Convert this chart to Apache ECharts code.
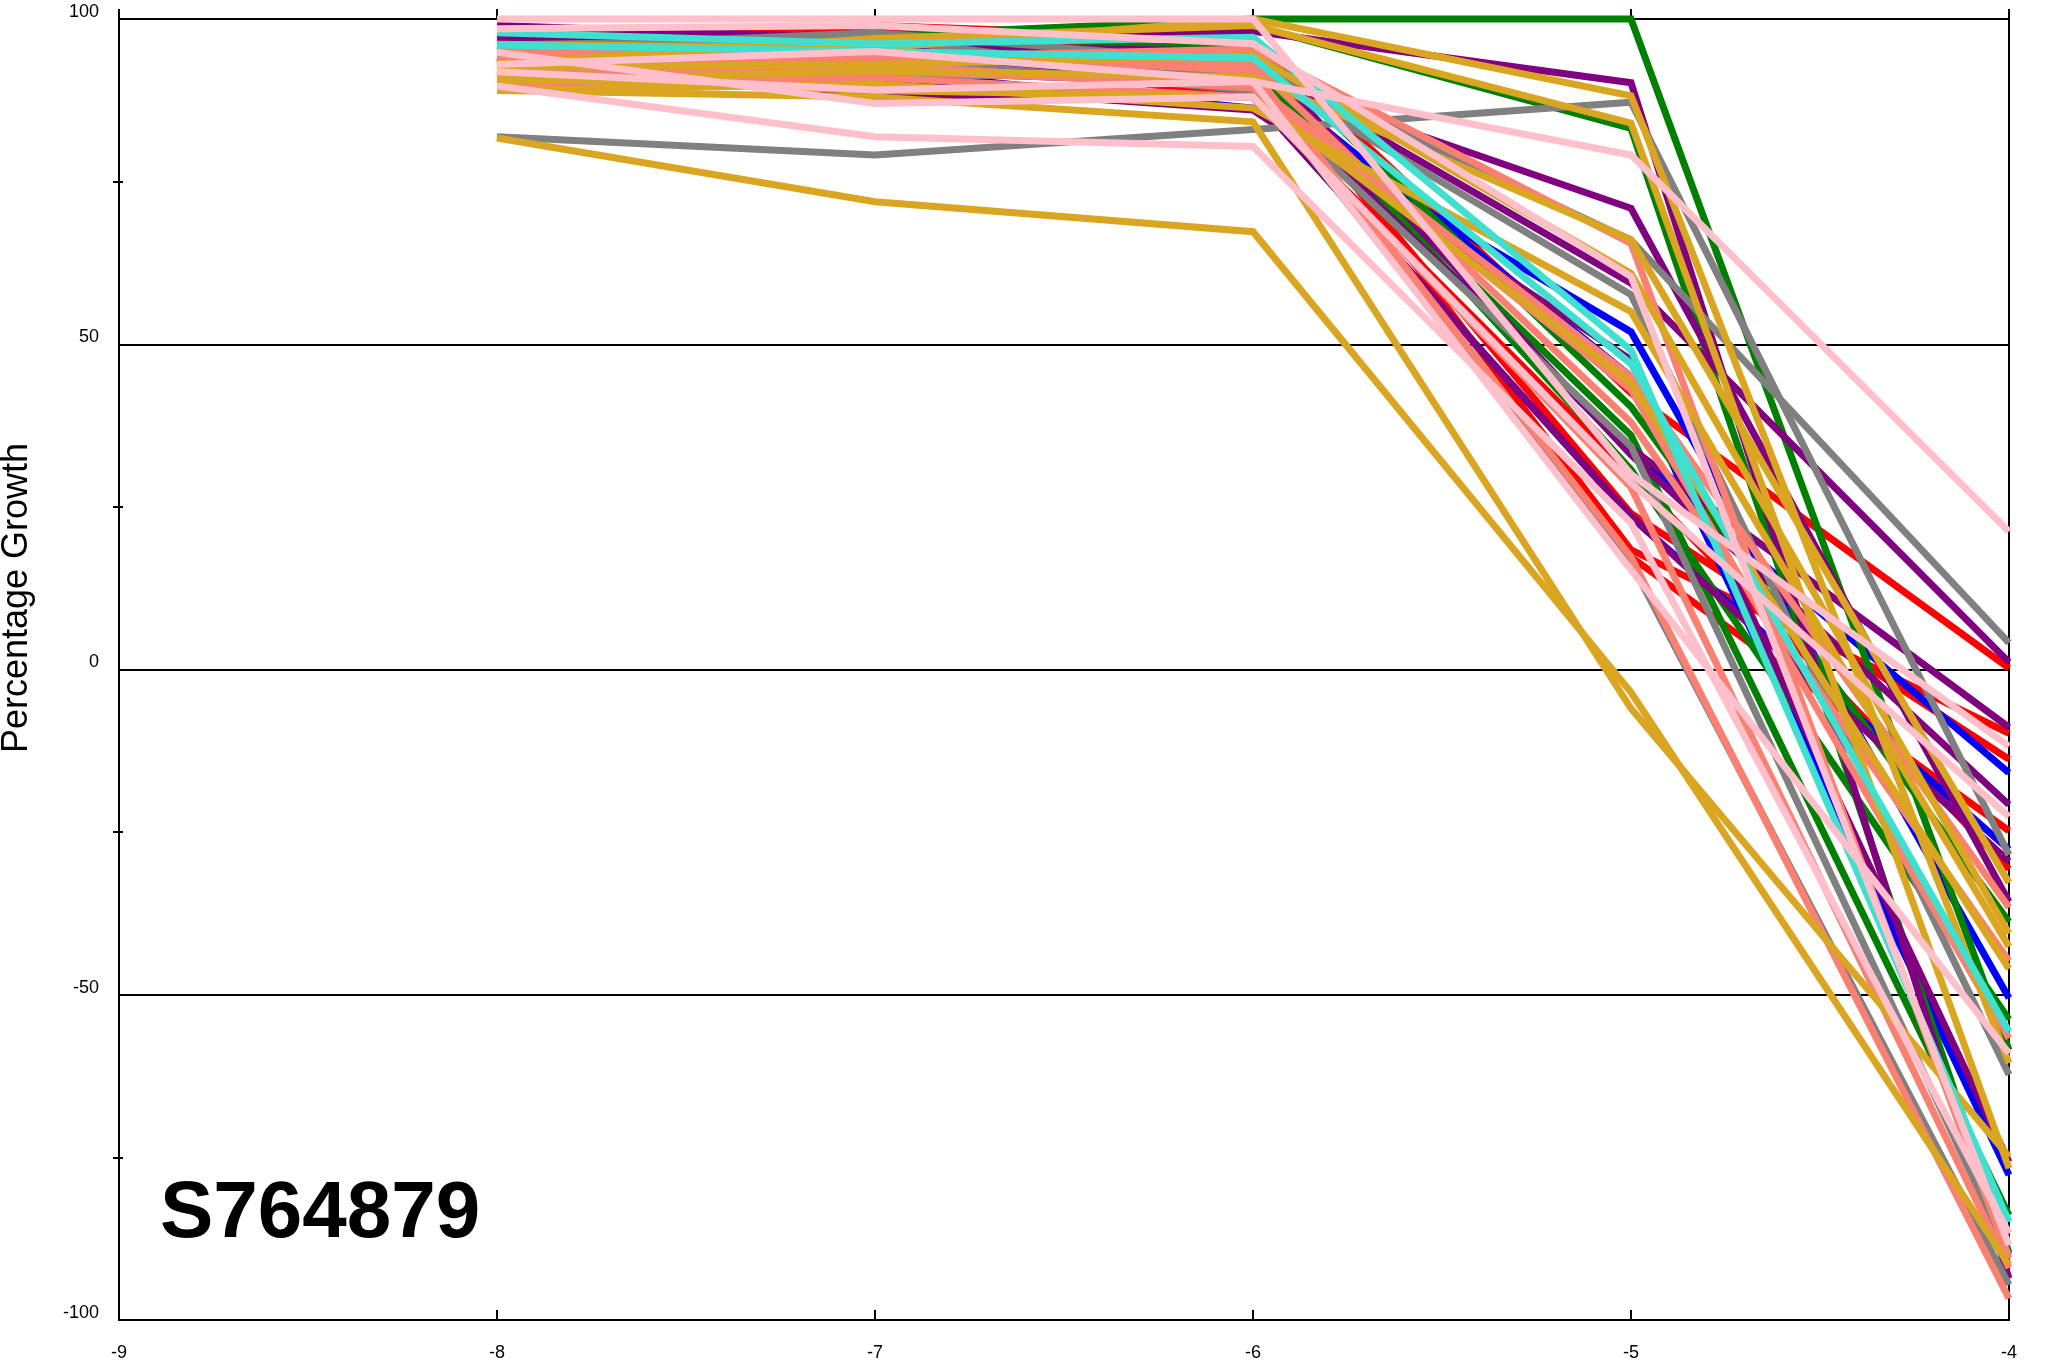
<!DOCTYPE html>
<html>
<head>
<meta charset="utf-8">
<script src="https://cdn.jsdelivr.net/npm/echarts@6/dist/echarts.min.js"></script>
<style>
html,body{margin:0;padding:0;background:#fff;}
#chart{width:2059px;height:1370px;}
</style>
</head>
<body>
<div id="chart"></div>
<script>
// log10 molar concentrations (x axis)
const doses = [-8, -7, -6, -5, -4];
const xTicks = [-9, -8, -7, -6, -5, -4];
const yTicks = [-100, -50, 0, 50, 100];
const compoundName = 'S764879';
const yTitle = 'Percentage Growth';

// percentage growth per cell line, grouped by panel colour
const redLines = [
  [97, 99, 97, 42.5, 0.2],
  [96, 98, 95, 18.4, -9.8],
  [95, 97, 93, 24, -13.8],
  [98, 96, 90, 17.3, -24.8],
  [94, 95, 88, 30, -30.7]
];
const blueLines = [
  [93, 92, 86.3, 51.9, -50.5],
  [96, 95, 91, 33.5, -15.9],
  [92, 90, 88, 23.5, -27.7],
  [95, 96, 92, 45, -77.7]
];
const greenLines = [
  [96.5, 97.5, 100, 100, -58.5],
  [97, 96, 99, 83.2, -89.7],
  [93, 95, 96, 40.4, -38.8],
  [95, 96, 94, 30.7, -53.8],
  [94, 93, 92, 36, -83.9]
];
const purpleLines = [
  [99, 97, 98.1, 90.2, -93.6],
  [94, 93.2, 91, 70.9, -35.7],
  [96, 97, 93, 59.4, 1.1],
  [93, 92, 90, 34, -8.9],
  [94, 88.1, 88, 23.5, -29.5],
  [92, 90, 86, 47.6, -75.7],
  [97, 96, 95, 33, -20.8]
];
const grayLines = [
  [81.9, 79.1, 83, 87.2, -28.5],
  [95.5, 97.9, 93.2, 66, 4.1],
  [93, 91, 92.2, 57.6, -62.3],
  [96, 97, 90, 16.4, -94.6],
  [91, 94, 89, 34.3, -90]
];
const salmonLines = [
  [93, 94.1, 95.4, 65.5, -90.5],
  [92, 93, 89.4, 43, -56.7],
  [94, 95, 92, 17.3, -96.7],
  [91, 92, 90, 45, -36.6],
  [95, 94, 93, 38, -44.8],
  [90, 91, 88, 28, -92]
];
const goldLines = [
  [81.7, 71.9, 67.3, -3.5, -91.5],
  [89, 88, 84.2, -6, -74.9],
  [96.1, 95.5, 100, 88.2, -60.5],
  [93.1, 97, 99, 84, -76.7],
  [90.4, 92, 91.1, 66.1, -32.8],
  [92.6, 93, 94.4, 60.9, -40.6],
  [89, 90, 86.3, 55, -42.6],
  [91, 89, 88, 44, -46]
];
const turquoiseLines = [
  [97.9, 96.2, 97.2, 49.1, -84.9],
  [96, 95, 94, 47, -55.7]
];
const pinkLines = [
  [91.9, 89.1, 90.4, 79.1, 21.2],
  [100, 100, 100, 30, -11.8],
  [94.9, 87, 88, 28.7, -22.6],
  [89.7, 81.9, 80.4, 22.5, -86.7],
  [98.5, 99, 96.2, 60.4, -88.5],
  [93, 95, 90.4, 15.3, -59]
];

const groups = [
  {color: '#FF0000', lines: redLines},
  {color: '#0000FF', lines: blueLines},
  {color: '#008000', lines: greenLines},
  {color: '#800080', lines: purpleLines},
  {color: '#808080', lines: grayLines},
  {color: '#FA8072', lines: salmonLines},
  {color: '#DAA520', lines: goldLines},
  {color: '#40E0D0', lines: turquoiseLines},
  {color: '#FFC0CB', lines: pinkLines}
];

const FONT = '"Liberation Sans", Arial, Helvetica, sans-serif';
const series = [];
groups.forEach(g => {
  g.lines.forEach(vals => {
    series.push({
      type: 'line',
      data: doses.map((d, i) => [d, vals[i]]),
      showSymbol: false,
      symbol: 'none',
      clip: false,
      silent: true,
      lineStyle: {color: g.color, width: 7, join: 'miter'},
      z: 3
    });
  });
});

const chart = echarts.init(document.getElementById('chart'), null, {renderer: 'canvas'});
const baseX = {
  type: 'value', min: xTicks[0], max: xTicks[xTicks.length - 1], interval: 1,
  splitLine: {show: false},
  axisLine: {show: true, onZero: false, lineStyle: {color: '#000', width: 2}}
};
chart.setOption({
  animation: false,
  backgroundColor: '#fff',
  grid: {left: 119, top: 19, width: 1890, height: 1301, show: true, borderColor: '#000', borderWidth: 2, backgroundColor: 'transparent'},
  xAxis: [
    Object.assign({}, baseX, {
      position: 'bottom',
      axisTick: {show: true, inside: true, length: 10, lineStyle: {color: '#000', width: 2}},
      axisLabel: {show: true, margin: 24, fontSize: 18, color: '#000', fontFamily: FONT,
        formatter: v => xTicks.includes(v) ? String(v) : ''}
    }),
    Object.assign({}, baseX, {
      position: 'top',
      axisTick: {show: true, inside: false, length: 10, lineStyle: {color: '#000', width: 2}},
      axisLabel: {show: false}
    })
  ],
  yAxis: [
    {
      type: 'value', min: yTicks[0], max: yTicks[yTicks.length - 1], interval: 50,
      position: 'left',
      axisLine: {show: true, onZero: false, lineStyle: {color: '#000', width: 2}},
      axisTick: {show: false},
      minorTick: {show: true, splitNumber: 2, length: 6, lineStyle: {color: '#000', width: 2}},
      splitLine: {show: true, lineStyle: {color: '#000', width: 2}},
      axisLabel: {show: true, margin: 20, fontSize: 18, color: '#000', fontFamily: FONT,
        verticalAlign: 'bottom', lineHeight: 14,
        formatter: v => yTicks.includes(v) ? String(v) : ''}
    },
    {
      type: 'value', min: yTicks[0], max: yTicks[yTicks.length - 1], interval: 50,
      position: 'left',
      axisLine: {show: false},
      axisTick: {show: false, inside: true},
      minorTick: {show: true, splitNumber: 2, length: 4, lineStyle: {color: '#000', width: 2}},
      splitLine: {show: false},
      axisLabel: {show: false}
    }
  ],
  graphic: [
    {
      type: 'text', x: 17, y: 598, rotation: Math.PI / 2, silent: true,
      style: {text: yTitle, fill: '#000', font: '36px ' + FONT, textAlign: 'center', textVerticalAlign: 'middle'}
    },
    {
      type: 'text', x: 160, y: 1215, silent: true, z: 10,
      style: {text: compoundName, fill: '#000', font: 'bold 80px ' + FONT, textAlign: 'left', textVerticalAlign: 'middle'}
    }
  ],
  series: series
});
</script>
</body>
</html>
